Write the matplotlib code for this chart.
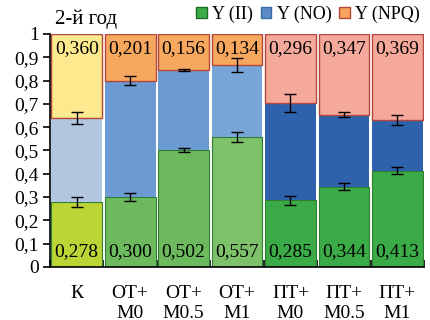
import numpy as np
import matplotlib.pyplot as plt
from matplotlib.patches import Patch

plt.rcParams['font.family'] = 'serif'
plt.rcParams['font.serif'] = ['Liberation Serif', 'Times New Roman', 'DejaVu Serif']

groups = ['К', 'ОТ+\nМ0', 'ОТ+\nМ0.5', 'ОТ+\nМ1', 'ПТ+\nМ0', 'ПТ+\nМ0.5', 'ПТ+\nМ1']
y_ii = [0.278, 0.300, 0.502, 0.557, 0.285, 0.344, 0.413]
y_npq = [0.360, 0.201, 0.156, 0.134, 0.296, 0.347, 0.369]
err_ii = [0.022, 0.017, 0.008, 0.022, 0.018, 0.014, 0.015]
err_no = [0.025, 0.020, 0.005, 0.030, 0.038, 0.010, 0.020]

y_ii = np.array(y_ii); y_npq = np.array(y_npq)
y_no = 1 - y_ii - y_npq

# per-bar colours: control, open-ground (ОТ), protected (ПТ)
c_ii = ['#bcd435', '#6dba5e', '#6dba5e', '#7dc26a', '#3aab47', '#3aab47', '#3aab47']
c_no = ['#b3c6df', '#6b9bd2', '#6b9bd2', '#78a5d8', '#2f62ad', '#2f62ad', '#2f62ad']
c_npq = ['#fde98e', '#f7a75e', '#f7a75e', '#f7a75e', '#f5a99b', '#f5a99b', '#f5a99b']

fig = plt.figure(figsize=(4.31, 3.2), dpi=100)
ax = fig.add_axes([0.116, 0.166, 0.868, 0.728])

x = np.arange(len(groups))
w = 0.95
ax.bar(x, y_ii, w, color=c_ii, edgecolor='#2e7d32', linewidth=0.8, zorder=2)
ax.bar(x, y_no, w, bottom=y_ii, color=c_no, edgecolor='none', zorder=2)
ax.bar(x, y_npq, w, bottom=y_ii + y_no, color=c_npq, edgecolor='#b5473a', linewidth=1.0, zorder=2)

ax.errorbar(x, y_ii, yerr=err_ii, fmt='none', ecolor='k', elinewidth=1, capsize=4, capthick=1, zorder=3)
ax.errorbar(x, y_ii + y_no, yerr=err_no, fmt='none', ecolor='k', elinewidth=1, capsize=4, capthick=1, zorder=3)

fs = 14
for i in range(len(x)):
    ax.text(x[i], 0.03, ('%.3f' % y_ii[i]).replace('.', ','), ha='center', va='bottom', fontsize=fs, zorder=4)
    ax.text(x[i], 0.975, ('%.3f' % y_npq[i]).replace('.', ','), ha='center', va='top', fontsize=fs, zorder=4)

ax.set_xlim(-0.5, len(x) - 0.5)
ax.set_ylim(0, 1)
ax.set_yticks(np.arange(0, 1.01, 0.1))
ax.set_yticklabels(['0'] + [('%.1f' % v).replace('.', ',') for v in np.arange(0.1, 0.95, 0.1)] + ['1'])
ax.set_xticks(np.arange(-0.5, len(x), 1))
ax.set_xticklabels([])
ax.set_xticks(x, minor=True)
ax.set_xticklabels(groups, minor=True, fontsize=fs, linespacing=1.2)
ax.tick_params(axis='x', which='minor', length=0, pad=13)
ax.tick_params(axis='x', which='major', direction='in', length=5, width=1.2)
ax.tick_params(axis='y', direction='out', length=5, width=1.2, labelsize=fs, pad=3)
for s in ['top', 'right']:
    ax.spines[s].set_visible(False)
ax.spines['left'].set_linewidth(1.2)
ax.spines['bottom'].set_linewidth(1.2)

fig.text(0.128, 0.94, '2-й год', fontsize=fs + 1, ha='left', va='center')
handles = [Patch(facecolor='#3aab47', edgecolor='#1e6b28', label='Y (II)'),
           Patch(facecolor='#5b8ac6', edgecolor='#3a6aa8', label='Y (NO)'),
           Patch(facecolor='#f7a35c', edgecolor='#b5473a', label='Y (NPQ)')]
fig.legend(handles=handles, loc='center right', bbox_to_anchor=(0.995, 0.955), ncol=3, frameon=False,
           fontsize=13, handlelength=0.6, handleheight=0.6, handletextpad=0.3, columnspacing=0.4, borderpad=0)

fig.savefig('out.png', dpi=100)
